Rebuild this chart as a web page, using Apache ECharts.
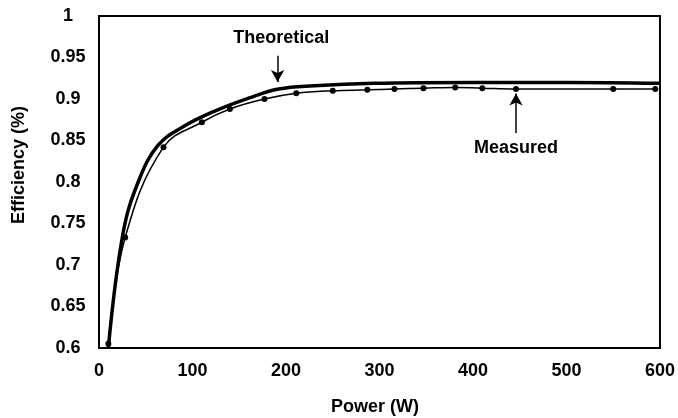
<!DOCTYPE html>
<html>
<head>
<meta charset="utf-8">
<script src="https://cdn.jsdelivr.net/npm/echarts@6/dist/echarts.min.js"></script>
<style>
  html, body { margin: 0; padding: 0; background: #fff; }
  #chart { width: 678px; height: 418px; }
</style>
</head>
<body>
<div id="chart"></div>
<script>
// power (W) and efficiency
var theoPower = [10, 26, 43, 63, 89, 125, 160, 192, 230, 294, 400, 500, 600];
var theoEff = [0.600, 0.740, 0.803, 0.844, 0.866, 0.886, 0.901, 0.912, 0.916, 0.919, 0.920, 0.920, 0.919];

var measPower = [10, 28, 69, 110, 140, 177, 211, 250, 287, 316, 347, 381, 410, 446, 550, 595];
var measEff = [0.605, 0.733, 0.842, 0.872, 0.888, 0.900, 0.907, 0.910, 0.911, 0.912, 0.913, 0.914, 0.913, 0.912, 0.912, 0.912];

var xTicks = [0, 100, 200, 300, 400, 500, 600];
var yTicks = [0.6, 0.65, 0.7, 0.75, 0.8, 0.85, 0.9, 0.95, 1];

var font = '"Liberation Sans", Arial, sans-serif';

function pairs(xs, ys) {
    return xs.map(function (x, i) { return [x, ys[i]]; });
}

var option = {
    animation: false,
    backgroundColor: '#fff',
    grid: {
        left: 99, right: 11, top: 16, bottom: 70,
        show: true,
        borderColor: '#000',
        borderWidth: 2
    },
    xAxis: {
        type: 'value',
        min: xTicks[0],
        max: xTicks[xTicks.length - 1],
        interval: 100,
        axisLine: { show: false },
        axisTick: { show: false },
        splitLine: { show: false },
        axisLabel: {
            color: '#000', fontFamily: font, fontWeight: 'bold', fontSize: 18, margin: 14
        }
    },
    yAxis: {
        type: 'value',
        min: yTicks[0],
        max: yTicks[yTicks.length - 1],
        interval: 0.05,
        axisLine: { show: false },
        axisTick: { show: false },
        splitLine: { show: false },
        axisLabel: {
            color: '#000', fontFamily: font, fontWeight: 'bold', fontSize: 18,
            margin: 31, align: 'center',
            formatter: function (v) { return String(+v.toFixed(2)); }
        }
    },
    graphic: [
        {
            type: 'text', x: 19, y: 165, rotation: Math.PI / 2,
            style: {
                text: 'Efficiency (%)', fill: '#000', font: 'bold 18px ' + font,
                align: 'center', verticalAlign: 'middle'
            }
        },
        {
            type: 'text', x: 375, y: 407,
            style: {
                text: 'Power (W)', fill: '#000', font: 'bold 18px ' + font,
                align: 'center', verticalAlign: 'middle'
            }
        }
    ],
    series: [
        {
            name: 'Theoretical',
            type: 'line',
            data: pairs(theoPower, theoEff),
            smooth: 0.4,
            showSymbol: false,
            lineStyle: { color: '#000', width: 3.5 },
            z: 2,
            markLine: {
                silent: true,
                symbol: ['none', 'arrow'],
                symbolSize: [10, 12],
                lineStyle: { color: '#000', width: 1.5, type: 'solid' },
                label: { show: false },
                data: [[{ coord: [191, 0.952] }, { coord: [191, 0.9205] }]]
            },
            markPoint: {
                symbol: 'circle', symbolSize: 1,
                itemStyle: { color: 'rgba(0,0,0,0)' },
                label: {
                    show: true, position: 'inside', color: '#000',
                    fontFamily: font, fontWeight: 'bold', fontSize: 18,
                    formatter: 'Theoretical'
                },
                data: [{ coord: [195, 0.9735] }]
            }
        },
        {
            name: 'Measured',
            type: 'line',
            data: pairs(measPower, measEff),
            smooth: 0.4,
            symbol: 'circle',
            symbolSize: 6,
            itemStyle: { color: '#000' },
            lineStyle: { color: '#000', width: 1.5 },
            z: 3,
            markLine: {
                silent: true,
                symbol: ['none', 'arrow'],
                symbolSize: [10, 12],
                lineStyle: { color: '#000', width: 1.5, type: 'solid' },
                label: { show: false },
                data: [[{ coord: [446, 0.859] }, { coord: [446, 0.9065] }]]
            },
            markPoint: {
                symbol: 'circle', symbolSize: 1,
                itemStyle: { color: 'rgba(0,0,0,0)' },
                label: {
                    show: true, position: 'inside', color: '#000',
                    fontFamily: font, fontWeight: 'bold', fontSize: 18,
                    formatter: 'Measured'
                },
                data: [{ coord: [446, 0.8405] }]
            }
        }
    ]
};

var chart = echarts.init(document.getElementById('chart'));
chart.setOption(option);
</script>
</body>
</html>
